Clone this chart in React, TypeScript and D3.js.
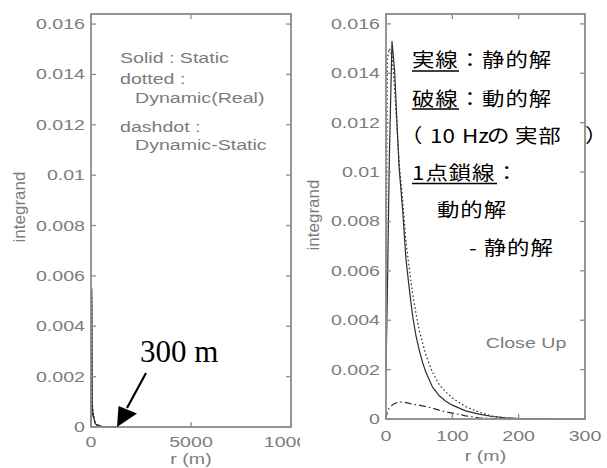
import * as d3 from 'd3';
import { ReactElement } from 'react';

// ─ Data ─────────────────────────────────────────────────────────────────────
const yTicks = [0, 0.002, 0.004, 0.006, 0.008, 0.01, 0.012, 0.014, 0.016];
const yTickLabels = ['0', '0.002', '0.004', '0.006', '0.008', '0.01', '0.012', '0.014', '0.016'];

const farTicks = [0, 5000, 10000];
const farTickLabels = ['0', '5000', '10000'];
const nearTicks = [0, 100, 200, 300];
const nearTickLabels = ['0', '100', '200', '300'];

// full range (0 - 10000 m)
const farR = [0, 40, 60, 100, 200, 300, 500, 800, 1300];
const farStatic = [0, 0.0055, 0.0009, 0.0005, 0.00015, 0.00006, 0.00002, 0, 0];
const farDynamic = [0, 0.0052, 0.0011, 0.0006, 0.0002, 0.00008, 0.00003, 0.00001, 0];
const farDiff = [0, 0.0004, 0.0006, 0.0005, 0.0002, 0.0001, 0.00003, 0, 0];

// close up (0 - 300 m)
const nearR = [0, 2, 5, 9, 13, 17, 20, 25, 30, 35, 40, 45, 50, 55, 60, 70, 80, 90, 100, 120, 140, 160, 180, 200, 250, 300];
const nearStatic = [0.0019, 0.005, 0.0105, 0.0153, 0.0141, 0.0117, 0.0101, 0.0085, 0.0065, 0.0053, 0.0042, 0.0034, 0.0028, 0.0023, 0.0019, 0.0013, 0.00095, 0.00072, 0.00056, 0.00033, 0.0002, 0.0001, 0.00005, 0.00002, 0, 0];
const nearDynamic = [0.0019, 0.0146, 0.015, 0.0147, 0.0134, 0.0116, 0.0103, 0.0089, 0.0072, 0.0061, 0.0051, 0.0043, 0.0036, 0.0031, 0.0026, 0.0019, 0.0014, 0.0011, 0.00085, 0.0005, 0.00028, 0.00012, 0.00004, 0.00001, 0, 0];
const nearDiff = [0, 0.0003, 0.00045, 0.00056, 0.00063, 0.00066, 0.00068, 0.00068, 0.00066, 0.00063, 0.0006, 0.00058, 0.00056, 0.00053, 0.0005, 0.00044, 0.00036, 0.00029, 0.00024, 0.00013, 0.00005, 0.00002, 0, 0, 0, 0];

const AXIS = '#8c8c8c';
const LABEL = '#7c7c7c';
const CURVE = '#2e2e2e';
const SANS = '"Liberation Sans", Arial, sans-serif';
const JP = '"Noto Sans CJK JP", sans-serif';
const JSX_SCALE = 1.18;

// stretched text, like the scanned original
const SText = ({ x, y, anchor = 'start', size = 14, sx = 1.4, children }: any) => (
  <text transform={`translate(${x},${y}) scale(${sx},1)`} textAnchor={anchor} fontSize={size}
    fill={LABEL} fontFamily={SANS}>{children}</text>
);

interface PanelProps {
  x0: number; x1: number; y0: number; y1: number;
  xMax: number; xTicks: number[]; xLabels: string[];
  r: number[]; series: number[][];
  xLabelY: number; xTickY: number; yLabelX: number; yLabelY: number;
}

const Panel = (p: PanelProps): ReactElement => {
  const x = d3.scaleLinear().domain([0, p.xMax]).range([p.x0, p.x1]);
  const y = d3.scaleLinear().domain([0, 0.0164]).range([p.y1, p.y0]);
  const line = (vals: number[]) => d3.line<number>().x((_, i) => x(p.r[i])).y(v => y(v))(vals) || '';
  const dashes = [undefined, '1.6,2.4', '7,3,1.5,3'];
  const tick = 5;
  return (
    <g>
      {p.series.map((s, i) => (
        <path key={i} d={line(s)} fill="none" stroke={CURVE} strokeWidth={1.2} strokeDasharray={dashes[i]} />
      ))}
      <rect x={p.x0} y={p.y0} width={p.x1 - p.x0} height={p.y1 - p.y0} fill="none" stroke={AXIS} strokeWidth={1.8} />
      {yTicks.map((t, i) => (
        <g key={i}>
          <line x1={p.x0} x2={p.x0 + tick} y1={y(t)} y2={y(t)} stroke={AXIS} strokeWidth={1.3} />
          <line x1={p.x1} x2={p.x1 - tick} y1={y(t)} y2={y(t)} stroke={AXIS} strokeWidth={1.3} />
          <SText x={p.x0 - 6} y={y(t) + 5} anchor="end">{yTickLabels[i]}</SText>
        </g>
      ))}
      {p.xTicks.map((t, i) => (
        <g key={i}>
          <line x1={x(t)} x2={x(t)} y1={p.y1} y2={p.y1 - tick} stroke={AXIS} strokeWidth={1.3} />
          <line x1={x(t)} x2={x(t)} y1={p.y0} y2={p.y0 + tick} stroke={AXIS} strokeWidth={1.3} />
          <SText x={x(t)} y={p.xTickY} anchor="middle">{p.xLabels[i]}</SText>
        </g>
      ))}
      <SText x={(p.x0 + p.x1) / 2} y={p.xLabelY} anchor="middle">r (m)</SText>
      <text transform={`translate(${p.yLabelX},${p.yLabelY}) rotate(-90)`} textAnchor="middle"
        fontSize={17} fill={LABEL} fontFamily={SANS}>integrand</text>
    </g>
  );
};

const JText = ({ x, y, children }: any) => (
  <text transform={`translate(${x},${y}) scale(${JSX_SCALE},1)`} fontSize={19} letterSpacing={0.8}
    fill="#000" fontFamily={JP}>{children}</text>
);

export default function App(): ReactElement {
  const jx = (v: number) => v / JSX_SCALE;
  return (
    <svg width={607} height={468} style={{ position: 'absolute', left: 0, top: 0, background: '#fff' }}>
      <rect width={607} height={468} fill="#fff" />
      <Panel x0={91} x1={291} y0={14} y1={427} xMax={10000} xTicks={farTicks} xLabels={farTickLabels}
        r={farR} series={[farStatic, farDynamic, farDiff]}
        xLabelY={464} xTickY={447} yLabelX={25} yLabelY={207} />
      <SText x={120} y={63}>Solid : Static</SText>
      <SText x={120} y={84}>dotted :</SText>
      <SText x={135} y={103}>Dynamic(Real)</SText>
      <SText x={120} y={132}>dashdot :</SText>
      <SText x={135} y={150}>Dynamic-Static</SText>

      <text x={140} y={362} fontSize={31} fontFamily='"Liberation Serif", "Times New Roman", serif' fill="#000">300 m</text>
      <line x1={146} y1={373} x2={127} y2={408} stroke="#000" strokeWidth={2.2} />
      <path d="M117,427 L118.5,406 L137,413.5 Z" fill="#000" />

      <rect x={300} y={0} width={307} height={468} fill="#fff" />
      <Panel x0={386} x1={585} y0={14} y1={419} xMax={300} xTicks={nearTicks} xLabels={nearTickLabels}
        r={nearR} series={[nearStatic, nearDynamic, nearDiff]}
        xLabelY={461} xTickY={441} yLabelX={319} yLabelY={215} />
      <SText x={526} y={348} anchor="middle">Close Up</SText>

      <JText x={412} y={67}>実線：静的解</JText>
      <JText x={412} y={106}>破線：動的解</JText>
      <text transform={`translate(0,143) scale(${JSX_SCALE},1)`} fontSize={19} fill="#000" fontFamily={JP}>
        <tspan x={jx(400)}>（</tspan>
        <tspan x={jx(430)}>10</tspan>
        <tspan x={jx(462)}>Hz</tspan>
        <tspan x={jx(487)}>の</tspan>
        <tspan x={jx(515)} letterSpacing={0.8}>実部</tspan>
        <tspan x={jx(585)}>）</tspan>
      </text>
      <JText x={412} y={180}>1点鎖線：</JText>
      <JText x={437} y={217}>動的解</JText>
      <JText x={469} y={255}>- 静的解</JText>
      <line x1={412} x2={459} y1={71} y2={71} stroke="#000" strokeWidth={1.3} />
      <line x1={412} x2={459} y1={109} y2={109} stroke="#000" strokeWidth={1.3} />
      <line x1={412} x2={497} y1={183.5} y2={183.5} stroke="#000" strokeWidth={1.3} />
    </svg>
  );
}
